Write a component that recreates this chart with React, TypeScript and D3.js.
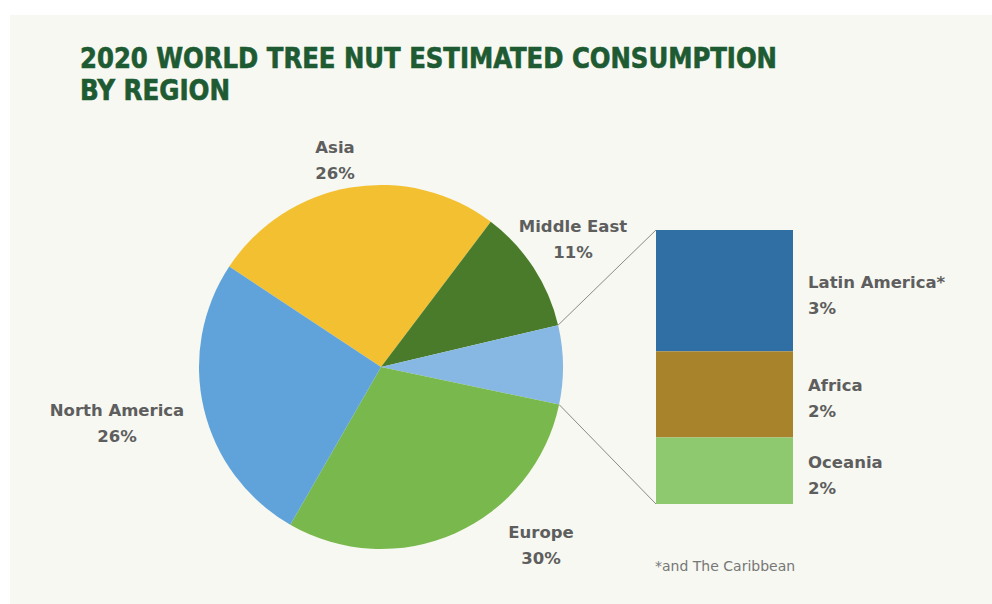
import React from "react";
import * as d3 from "d3";

const pieCategories = ["Asia", "Middle East", "Other", "Europe", "North America"];
const pieValues = [26, 11, null, 30, 26]; // "Other" = sum of bar values
const pieColors = ["#f3c032", "#4a7b2b", "#86b8e3", "#79b84c", "#5fa3da"];

const barCategories = ["Latin America*", "Africa", "Oceania"];
const barValues = [3.1, 2.2, 1.7];
const barColors = ["#2f6fa4", "#a9832b", "#8ec86f"];

const titleLines = ["2020 WORLD TREE NUT ESTIMATED CONSUMPTION", "BY REGION"];
const footnote = "*and The Caribbean";

const W = 992;
const H = 604;
const cx = 381;
const cy = 367;
const R = 182;
const startDeg = -56.5;

const bar = { x: 656, w: 137, top: 230, bottom: 504 };

const pieLabelPos: Record<string, { x: number; y: number }> = {
  Asia: { x: 335, y: 153 },
  "Middle East": { x: 573, y: 232 },
  Europe: { x: 541, y: 538 },
  "North America": { x: 117, y: 416 },
};

const labelFont = "'DejaVu Sans', 'Open Sans', sans-serif";
const textColor = "#5e5e5e";

export default function App() {
  const otherTotal = d3.sum(barValues);
  const values = pieValues.map((v) => (v == null ? otherTotal : v));
  const total = d3.sum(values);
  const start = (startDeg * Math.PI) / 180;
  const pie = d3
    .pie<number>()
    .sort(null)
    .value((d) => d)
    .startAngle(start)
    .endAngle(start + 2 * Math.PI);
  const arcs = pie(values);
  const arcGen = d3.arc<d3.PieArcDatum<number>>().innerRadius(0).outerRadius(R);

  const y = d3.scaleLinear().domain([0, otherTotal]).range([bar.top, bar.bottom]);
  let acc = 0;
  const segs = barValues.map((v, i) => {
    const s = { i, y0: y(acc), y1: y(acc + v), v };
    acc += v;
    return s;
  });

  const otherArc = arcs[2];
  const pt = (a: number) => [cx + R * Math.sin(a), cy - R * Math.cos(a)];
  const p0 = pt(otherArc.startAngle);
  const p1 = pt(otherArc.endAngle);

  return (
    <svg
      width={W}
      height={H}
      style={{ position: "absolute", left: 0, top: 0, display: "block" }}
    >
      <rect x={0} y={0} width={W} height={H} fill="#ffffff" />
      <rect x={10} y={15} width={W - 10} height={H - 15} fill="#f6f8f1" />
      {titleLines.map((t, i) => (
        <text
          key={t}
          x={80}
          y={68 + i * 32}
          fill="#1e5a32"
          stroke="#1e5a32"
          strokeWidth={0.6}
          fontFamily="'DejaVu Sans Condensed', 'DejaVu Sans', sans-serif"
          fontWeight={700}
          fontSize={28}
          textLength={i === 0 ? 697 : 150}
          lengthAdjust="spacingAndGlyphs"
        >
          {t}
        </text>
      ))}

      <g transform={`translate(${cx},${cy})`}>
        {arcs.map((a, i) => (
          <path key={pieCategories[i]} d={arcGen(a) || ""} fill={pieColors[i]} />
        ))}
      </g>

      <line x1={p0[0]} y1={p0[1]} x2={bar.x} y2={bar.top} stroke="#8a8a8a" strokeWidth={1} />
      <line x1={p1[0]} y1={p1[1]} x2={bar.x} y2={bar.bottom} stroke="#8a8a8a" strokeWidth={1} />

      {segs.map((s) => (
        <rect
          key={barCategories[s.i]}
          x={bar.x}
          y={s.y0}
          width={bar.w}
          height={s.y1 - s.y0}
          fill={barColors[s.i]}
        />
      ))}

      {pieCategories.map((c, i) => {
        const pos = pieLabelPos[c];
        if (!pos) return null;
        return (
          <text
            key={c}
            x={pos.x}
            y={pos.y}
            textAnchor="middle"
            fill={textColor}
            fontFamily={labelFont}
            fontWeight={700}
            fontSize={16.5}
          >
            <tspan x={pos.x}>{c}</tspan>
            <tspan x={pos.x} dy={26}>
              {Math.round((values[i] / total) * 100)}%
            </tspan>
          </text>
        );
      })}

      {segs.map((s) => {
        const mid = (s.y0 + s.y1) / 2;
        return (
          <text
            key={barCategories[s.i]}
            x={808}
            y={mid - 3}
            fill={textColor}
            fontFamily={labelFont}
            fontWeight={700}
            fontSize={16.5}
          >
            <tspan x={808}>{barCategories[s.i]}</tspan>
            <tspan x={808} dy={26}>
              {Math.round(s.v)}%
            </tspan>
          </text>
        );
      })}

      <text x={655} y={571} fill="#777" fontFamily={labelFont} fontSize={14}>
        {footnote}
      </text>
    </svg>
  );
}
